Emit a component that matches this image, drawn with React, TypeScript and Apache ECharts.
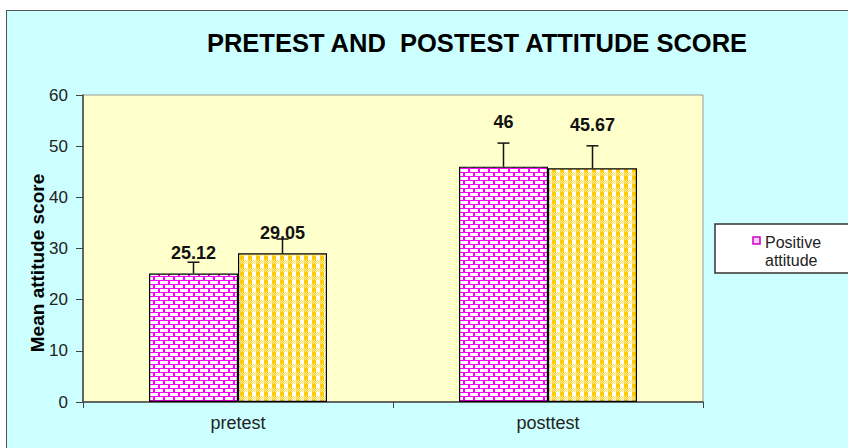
import React, { useEffect, useRef } from "react";
import * as echarts from "echarts";

const categories = ["pretest", "posttest"];
const positiveValues = [25.12, 46];
const positiveErrors = [2.2, 4.6];
const secondValues = [29.05, 45.67];
const secondErrors = [2.8, 4.4];
const yTicks = { min: 0, max: 60, interval: 10 };
const labelOffsets1 = [-11, -35.5];
const labelOffsets2 = [-11, -34.5];

function brickPattern() {
  const c = document.createElement("canvas");
  c.width = 10;
  c.height = 8;
  const g = c.getContext("2d")!;
  g.fillStyle = "#FF00FF";
  g.fillRect(0, 0, 10, 8);
  g.fillStyle = "#FFFFFF";
  g.fillRect(0, 1, 8, 3);
  g.fillRect(5, 5, 5, 3);
  g.fillRect(0, 5, 3, 3);
  return c;
}

function checkPattern() {
  const c = document.createElement("canvas");
  c.width = 8;
  c.height = 8;
  const g = c.getContext("2d")!;
  g.fillStyle = "#FFFFFF";
  g.fillRect(0, 0, 8, 8);
  g.fillStyle = "#FFCC00";
  g.fillRect(0, 0, 4, 4);
  for (let y = 4; y < 8; y++) {
    for (let x = 0; x < 8; x++) {
      if (x < 4) g.fillStyle = (x + y) % 2 ? "#FFCC00" : "#FFF0B0";
      else g.fillStyle = (x + y) % 2 ? "#FFDD55" : "#FFFFFF";
      g.fillRect(x, y, 1, 1);
    }
  }
  return c;
}

const FONT = "Liberation Sans, Arial, sans-serif";

export default function App() {
  const ref = useRef<HTMLDivElement>(null);
  useEffect(() => {
    document.body.style.margin = "0";
    const chart = echarts.init(ref.current!, null, { renderer: "svg" });
    const BW = 89;
    const makeErr = (vals: number[], errs: number[], off: number) => ({
      type: "custom",
      z: 10,
      silent: true,
      data: vals.map((v, i) => [i, v, errs[i]]),
      encode: { x: 0, y: 1 },
      renderItem: (params: any, api: any) => {
        const ci = api.value(0);
        const v = api.value(1);
        const e = api.value(2);
        const base = api.coord([ci, v]);
        const top = api.coord([ci, v + e]);
        const x = base[0] + off;
        const st = { stroke: "#111", lineWidth: 1.5 };
        return {
          type: "group",
          children: [
            { type: "line", shape: { x1: x, y1: base[1], x2: x, y2: top[1] }, style: st },
            { type: "line", shape: { x1: x - 6, y1: top[1], x2: x + 6, y2: top[1] }, style: st },
          ],
        };
      },
    });
    const labelBase = {
      show: true,
      position: "top",
      distance: 0,
      fontFamily: FONT,
      fontSize: 18,
      fontWeight: "bold",
      color: "#111",
    };
    chart.setOption({
      animation: false,
      backgroundColor: "transparent",
      grid: {
        left: 83,
        top: 95,
        right: 145,
        bottom: 46,
        show: true,
        backgroundColor: "#FFFFCC",
        borderColor: "#999",
        borderWidth: 1,
      },
      xAxis: {
        type: "category",
        data: categories,
        axisLine: { lineStyle: { color: "#444", width: 1.5 } },
        axisTick: { show: true, length: 6, lineStyle: { color: "#444" } },
        axisLabel: { fontFamily: FONT, fontSize: 18, color: "#222", margin: 12 },
      },
      yAxis: {
        type: "value",
        min: yTicks.min,
        max: yTicks.max,
        interval: yTicks.interval,
        splitLine: { show: false },
        axisLine: { show: true, lineStyle: { color: "#444", width: 1.5 } },
        axisTick: { show: true, length: 7, lineStyle: { color: "#444" } },
        axisLabel: { fontFamily: FONT, fontSize: 17, color: "#222", margin: 15 },
      },
      series: [
        {
          name: "Positive attitude",
          type: "bar",
          barWidth: BW,
          barGap: "0%",
          itemStyle: {
            color: { image: brickPattern(), repeat: "repeat", imageWidth: 10, imageHeight: 8 },
            borderColor: "#000",
            borderWidth: 1.2,
          },
          data: positiveValues.map((v, i) => ({
            value: v,
            label: { ...labelBase, offset: [0, labelOffsets1[i]] },
          })),
        },
        {
          name: "Series 2",
          type: "bar",
          barWidth: BW,
          barGap: "0%",
          itemStyle: {
            color: { image: checkPattern(), repeat: "repeat", imageWidth: 8, imageHeight: 8 },
            borderColor: "#000",
            borderWidth: 1.2,
          },
          data: secondValues.map((v, i) => ({
            value: v,
            label: { ...labelBase, offset: [0, labelOffsets2[i]] },
          })),
        },
        makeErr(positiveValues, positiveErrors, -BW / 2),
        makeErr(secondValues, secondErrors, BW / 2),
      ],
      graphic: [
        {
          type: "text",
          x: 477,
          y: 43,
          style: {
            text: "PRETEST AND  POSTEST ATTITUDE SCORE",
            fontFamily: FONT,
            fontSize: 25.5,
            fontWeight: "bold",
            fill: "#000",
            textAlign: "center",
            textVerticalAlign: "middle",
          },
        },
        {
          type: "text",
          x: 37,
          y: 263,
          rotation: Math.PI / 2,
          style: {
            text: "Mean attitude score",
            fontFamily: FONT,
            fontSize: 19,
            fontWeight: "bold",
            fill: "#000",
            textAlign: "center",
            textVerticalAlign: "middle",
          },
        },
        {
          type: "rect",
          shape: { x: 715, y: 224, width: 200, height: 49 },
          style: { fill: "#FFFFFF", stroke: "#333", lineWidth: 1.5 },
        },
        {
          type: "rect",
          shape: { x: 753, y: 237, width: 7, height: 7 },
          style: { fill: "#FFCCFF", stroke: "#CC00CC", lineWidth: 1.5 },
        },
        {
          type: "text",
          x: 765,
          y: 242,
          style: {
            text: "Positive",
            fontFamily: FONT,
            fontSize: 16,
            fill: "#222",
            textAlign: "left",
            textVerticalAlign: "middle",
          },
        },
        {
          type: "text",
          x: 765,
          y: 260,
          style: {
            text: "attitude",
            fontFamily: FONT,
            fontSize: 16,
            fill: "#222",
            textAlign: "left",
            textVerticalAlign: "middle",
          },
        },
      ],
    });
    return () => chart.dispose();
  }, []);
  return (
    <div style={{ position: "relative", width: 848, height: 448, overflow: "hidden", background: "#FFFFFF" }}>
      <div
        style={{
          position: "absolute",
          left: 6,
          top: 10,
          width: 900,
          height: 500,
          background: "#CCFFFF",
          border: "1.5px solid #555",
          boxSizing: "border-box",
        }}
      />
      <div ref={ref} style={{ position: "absolute", left: 0, top: 0, width: 848, height: 448 }} />
    </div>
  );
}
